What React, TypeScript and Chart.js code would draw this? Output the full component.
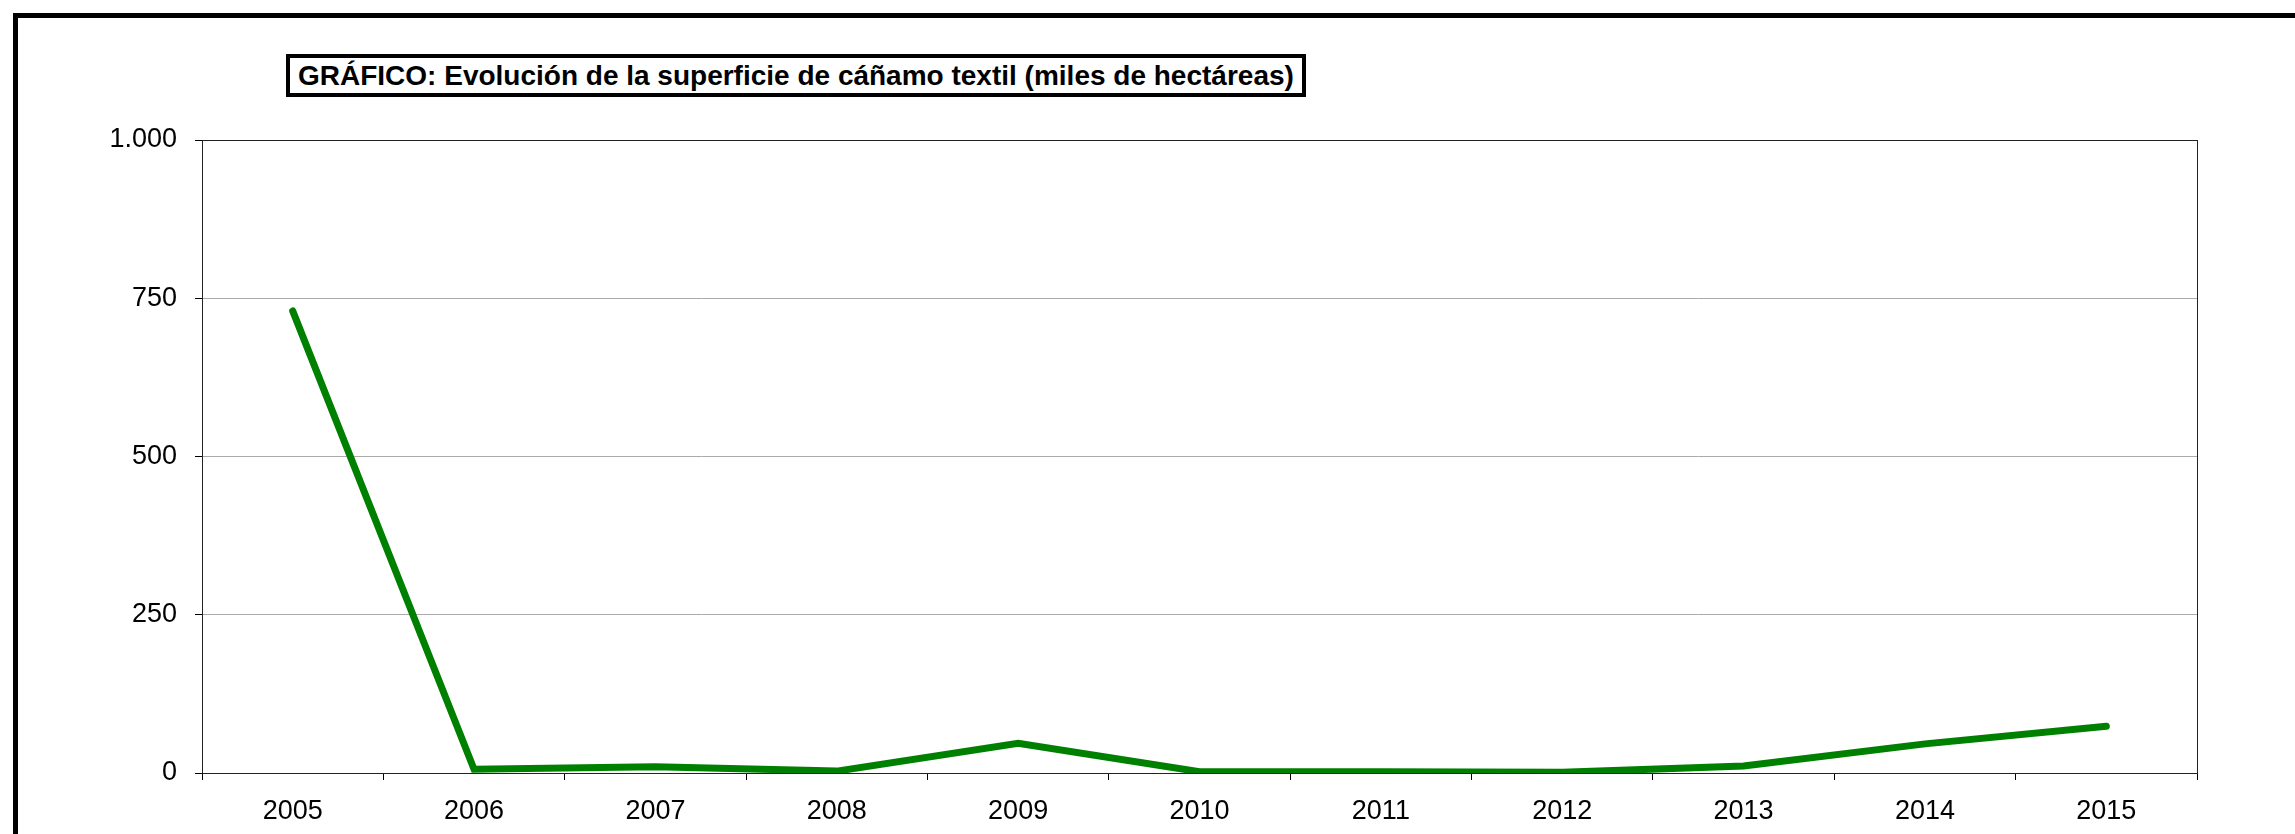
import React, { useEffect, useRef } from 'react';
import { Chart, registerables } from 'chart.js';

Chart.register(...registerables);

const years: string[] = ['2005', '2006', '2007', '2008', '2009', '2010', '2011', '2012', '2013', '2014', '2015'];
const superficie: number[] = [730, 6, 10, 3, 47, 2, 2, 1, 11, 46, 74];
const yTickValues: number[] = [0, 250, 500, 750, 1000];
const chartTitle = 'GRÁFICO: Evolución de la superficie de cáñamo textil (miles de hectáreas)';

const FONT = '"Liberation Sans", Arial, Helvetica, sans-serif';

function formatEs(v: number): string {
  return String(Math.round(v)).replace(/\B(?=(\d{3})+(?!\d))/g, '.');
}

const plotFrame = {
  id: 'plotFrame',
  beforeDatasetsDraw(chart: any) {
    const { ctx, chartArea } = chart;
    ctx.save();
    ctx.strokeStyle = '#222';
    ctx.lineWidth = 1;
    ctx.strokeRect(
      Math.round(chartArea.left) + 0.5,
      Math.round(chartArea.top) + 0.5,
      Math.round(chartArea.right - chartArea.left),
      Math.round(chartArea.bottom - chartArea.top)
    );
    ctx.restore();
  },
};

export default function App() {
  const canvasRef = useRef<HTMLCanvasElement | null>(null);

  useEffect(() => {
    document.body.style.margin = '0';
    const canvas = canvasRef.current;
    if (!canvas) return;
    const chart = new Chart(canvas, {
      type: 'line',
      data: {
        labels: years,
        datasets: [
          {
            data: superficie,
            borderColor: '#008000',
            backgroundColor: '#008000',
            borderWidth: 7,
            pointRadius: 0,
            pointHoverRadius: 0,
            tension: 0,
            borderCapStyle: 'round',
            borderJoinStyle: 'miter',
            fill: false,
          },
        ],
      },
      options: {
        responsive: false,
        animation: false,
        devicePixelRatio: 1,
        layout: { padding: { top: 140, right: 98, left: 0, bottom: 0 } },
        plugins: {
          legend: { display: false },
          tooltip: { enabled: false },
          title: { display: false },
        },
        scales: {
          x: {
            type: 'category',
            offset: true,
            grid: {
              offset: true,
              drawOnChartArea: false,
              drawTicks: true,
              tickLength: 7,
              tickColor: '#000',
            },
            border: { display: true, color: '#000', width: 1 },
            ticks: {
              color: '#000',
              font: { family: FONT, size: 27 },
              padding: 15,
              maxRotation: 0,
              autoSkip: false,
            },
            afterFit(scale: any) {
              scale.height = 61;
            },
          },
          y: {
            min: 0,
            max: 1000,
            afterBuildTicks(scale: any) {
              scale.ticks = yTickValues.map((v) => ({ value: v }));
            },
            grid: {
              color: (ctx: any) => {
                const v = ctx.tick ? ctx.tick.value : 0;
                if (v === 1000) return '#222';
                if (v === 0) return '#000';
                return '#aaaaaa';
              },
              lineWidth: 1,
              drawTicks: true,
              tickLength: 7,
              tickColor: '#000',
            },
            border: { display: true, color: '#000', width: 1 },
            ticks: {
              color: '#000',
              font: { family: FONT, size: 27 },
              padding: 18,
              callback: (v: any) => formatEs(Number(v)),
            },
            afterFit(scale: any) {
              scale.width = 202;
            },
          },
        },
      },
      plugins: [plotFrame],
    });
    return () => {
      chart.destroy();
    };
  }, []);

  return (
    <div
      style={{
        position: 'absolute',
        left: 0,
        top: 0,
        width: 2295,
        height: 834,
        overflow: 'hidden',
        background: '#fff',
      }}
    >
      <div
        style={{
          position: 'absolute',
          left: 13,
          top: 13,
          width: 2500,
          height: 1000,
          borderLeft: '5px solid #000',
          borderTop: '5px solid #000',
          boxSizing: 'border-box',
        }}
      />
      <canvas
        ref={canvasRef}
        width={2295}
        height={834}
        style={{ position: 'absolute', left: 0, top: 0, width: 2295, height: 834 }}
      />
      <div
        style={{
          position: 'absolute',
          left: 286,
          top: 54,
          height: 43,
          boxSizing: 'border-box',
          border: '4px solid #000',
          background: '#fff',
          padding: '0 8px',
          fontFamily: FONT,
          fontWeight: 'bold',
          fontSize: 28,
          lineHeight: '35px',
          color: '#000',
          whiteSpace: 'nowrap',
        }}
      >
        {chartTitle}
      </div>
    </div>
  );
}
